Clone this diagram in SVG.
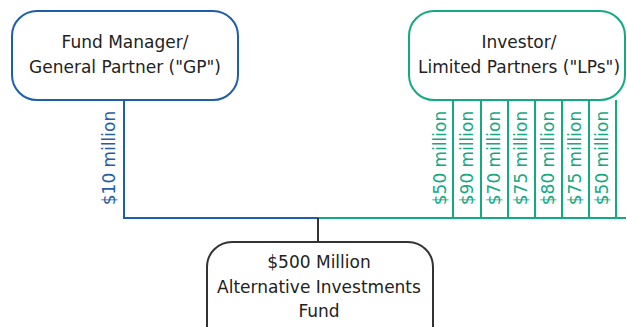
<svg xmlns="http://www.w3.org/2000/svg" width="627" height="327" viewBox="0 0 627 327">
<style>
.box{fill:#fff;stroke-width:2}
.gp{stroke:#1f5ea8}
.lp{stroke:#13a981}
.fd{stroke:#333}
.t{font-family:"DejaVu Sans",sans-serif;font-size:17px;fill:#222;text-anchor:middle}
.v{font-family:"DejaVu Sans",sans-serif;font-size:17px;text-anchor:middle}
.vb{fill:#1f5ea8}
.vg{fill:#13a981}
.c{fill:none;stroke-width:2}
</style>
<rect width="627" height="327" fill="#fff"/>
<g id="connectors">
<path class="c gp" d="M124,100 V218 H318"/>
<path class="c lp" d="M318,218 H626"/>
<path class="c lp" d="M453,100 V218 M481,100 V218 M508,100 V218 M535,100 V218 M562,100 V218 M589,100 V218 M616,100 V218"/>
<path class="c fd" d="M318,218 V243"/>
<g class="v vb"><text transform="translate(115,158) rotate(-90)">$10 million</text></g>
<g class="v vg">
<text transform="translate(446,158) rotate(-90)">$50 million</text>
<text transform="translate(473,158) rotate(-90)">$90 million</text>
<text transform="translate(500,158) rotate(-90)">$70 million</text>
<text transform="translate(527,158) rotate(-90)">$75 million</text>
<text transform="translate(554,158) rotate(-90)">$80 million</text>
<text transform="translate(581,158) rotate(-90)">$75 million</text>
<text transform="translate(608,158) rotate(-90)">$50 million</text>
</g>
</g>
<g id="gp">
<rect class="box gp" x="12" y="11" width="226" height="89" rx="25"/>
<text class="t" x="125" y="48">Fund Manager/</text>
<text class="t" x="125" y="73">General Partner ("GP")</text>
</g>
<g id="lp">
<rect class="box lp" x="409" y="11" width="216" height="89" rx="25"/>
<text class="t" x="519" y="48">Investor/</text>
<text class="t" x="519" y="73">Limited Partners ("LPs")</text>
</g>
<g id="fund">
<rect class="box fd" x="207" y="242" width="226" height="110" rx="25"/>
<text class="t" x="319" y="268">$500 Million</text>
<text class="t" x="319" y="293">Alternative Investments</text>
<text class="t" x="319" y="317">Fund</text>
</g>
</svg>
